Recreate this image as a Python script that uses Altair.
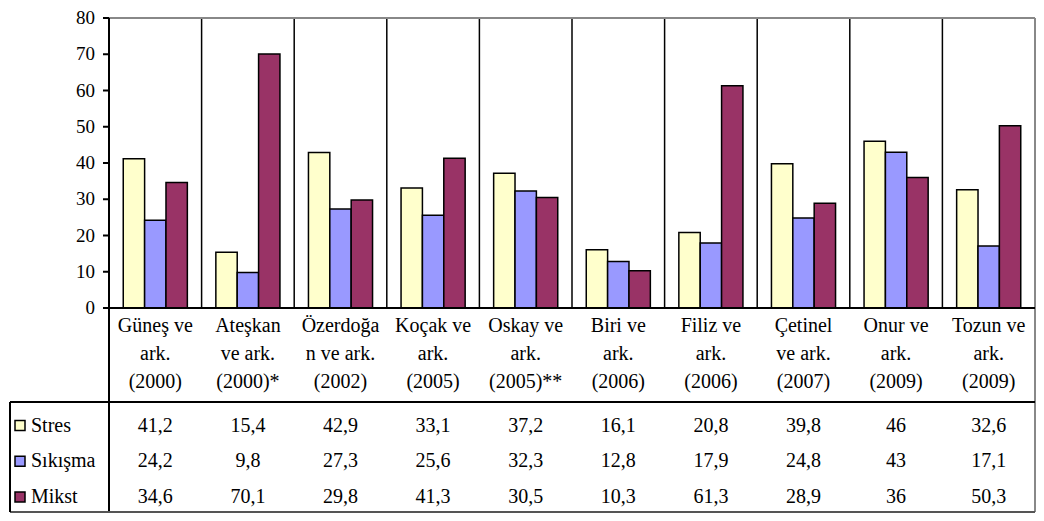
import altair as alt
import pandas as pd

# ---------------- data ----------------
label_line1 = ["Güneş ve", "Ateşkan", "Özerdoğa", "Koçak ve", "Oskay ve",
               "Biri ve", "Filiz ve", "Çetinel", "Onur ve", "Tozun ve"]
label_line2 = ["ark.", "ve ark.", "n ve ark.", "ark.", "ark.",
               "ark.", "ark.", "ve ark.", "ark.", "ark."]
label_line3 = ["(2000)", "(2000)*", "(2002)", "(2005)", "(2005)**",
               "(2006)", "(2006)", "(2007)", "(2009)", "(2009)"]
series = ["Stres", "Sıkışma", "Mikst"]
stres = [41.2, 15.4, 42.9, 33.1, 37.2, 16.1, 20.8, 39.8, 46, 32.6]
sikisma = [24.2, 9.8, 27.3, 25.6, 32.3, 12.8, 17.9, 24.8, 43, 17.1]
mikst = [34.6, 70.1, 29.8, 41.3, 30.5, 10.3, 61.3, 28.9, 36, 50.3]
y_ticks = [0, 10, 20, 30, 40, 50, 60, 70, 80]
colors = ["#FFFFCC", "#9999FF", "#993366"]

studies = [f"{a} {b} {c}" for a, b, c in zip(label_line1, label_line2, label_line3)]
values = {"Stres": stres, "Sıkışma": sikisma, "Mikst": mikst}

bars_df = pd.DataFrame([
    {"study": s, "series": ser, "value": values[ser][i]}
    for i, s in enumerate(studies) for ser in series
])
lines_df = pd.DataFrame([
    {"study": s, "line": ln, "text": t}
    for s, l1, l2, l3 in zip(studies, label_line1, label_line2, label_line3)
    for ln, t in (("l1", l1), ("l2", l2), ("l3", l3))
])
ticks_df = pd.DataFrame({"v": y_ticks})
series_df = pd.DataFrame({"series": series})
one = pd.DataFrame({"k": [0]})

# ---------------- layout ----------------
FONT = "Liberation Serif, Times New Roman, DejaVu Serif, serif"
X0, X1 = 101, 1027          # plot area left / right
YT, YA = 10, 300            # plot top / x axis
YTAB, YBOT = 394, 504       # table line / bottom
XL = 2                      # table left border

x_scale = alt.Scale(domain=studies, range=[X0, X1], paddingInner=0, paddingOuter=0)
y_scale = alt.Scale(domain=[0, 80], range=[YA, YT], nice=False, zero=True)
row_scale = alt.Scale(type="point", domain=series, range=[417.5, 489], padding=0)
line_scale = alt.Scale(type="point", domain=["l1", "l2", "l3"], range=[318, 373.5], padding=0)
color_scale = alt.Scale(domain=series, range=colors)

X = alt.X("study:N", scale=x_scale, axis=None)

bars = alt.Chart(bars_df).mark_bar(stroke="black", strokeWidth=1.5).encode(
    x=X,
    xOffset=alt.XOffset("series:N", scale=alt.Scale(domain=series, paddingInner=0, paddingOuter=0.667)),
    y=alt.Y("value:Q", scale=y_scale, axis=None),
    color=alt.Color("series:N", scale=color_scale, legend=None),
)

dividers = alt.Chart(pd.DataFrame({"study": studies[:-1]})).mark_rule(
    color="black", strokeWidth=1.5
).encode(
    x=alt.X("study:N", scale=x_scale, axis=None, bandPosition=1),
    y=alt.value(YT), y2=alt.value(YA),
)

right_border = alt.Chart(pd.DataFrame({"study": studies[-1:]})).mark_rule(
    color="#888888", strokeWidth=2
).encode(
    x=alt.X("study:N", scale=x_scale, axis=None, bandPosition=1),
    y=alt.value(YT), y2=alt.value(YBOT),
)

top_border = alt.Chart(one).mark_rule(color="#888888", strokeWidth=2).encode(
    x=alt.value(X0), x2=alt.value(X1), y=alt.value(YT))

y_axis_line = alt.Chart(one).mark_rule(color="black", strokeWidth=2).encode(
    x=alt.value(X0), y=alt.value(YT), y2=alt.value(YBOT))

x_axis_line = alt.Chart(pd.DataFrame({"v": [0]})).mark_rule(color="black", strokeWidth=2).encode(
    y=alt.Y("v:Q", scale=y_scale, axis=None), x=alt.value(X0 - 6), x2=alt.value(X1))

tick_marks = alt.Chart(ticks_df).mark_rule(color="black", strokeWidth=2).encode(
    y=alt.Y("v:Q", scale=y_scale, axis=None), x=alt.value(X0 - 6), x2=alt.value(X0))

tick_labels = alt.Chart(ticks_df).mark_text(
    align="right", baseline="middle", font=FONT, fontSize=19, color="black"
).encode(
    y=alt.Y("v:Q", scale=y_scale, axis=None), x=alt.value(X0 - 14), text="v:Q")

table_line = alt.Chart(one).mark_rule(color="black", strokeWidth=2).encode(
    x=alt.value(XL), x2=alt.value(X1), y=alt.value(YTAB))
table_bottom = alt.Chart(one).mark_rule(color="#555555", strokeWidth=2).encode(
    x=alt.value(XL), x2=alt.value(X1), y=alt.value(YBOT))
table_left = alt.Chart(one).mark_rule(color="black", strokeWidth=2).encode(
    x=alt.value(XL), y=alt.value(YTAB), y2=alt.value(YBOT))

cat_labels = alt.Chart(lines_df).mark_text(
    align="center", baseline="middle", font=FONT, fontSize=20, color="black"
).encode(
    x=X, y=alt.Y("line:N", scale=line_scale, axis=None), text="text:N")

cell_values = alt.Chart(bars_df).transform_calculate(
    label="replace(toString(datum.value), '.', ',')"
).mark_text(
    align="center", baseline="middle", font=FONT, fontSize=20, color="black"
).encode(
    x=X, y=alt.Y("series:N", scale=row_scale, axis=None), text="label:N")

legend_squares = alt.Chart(series_df).mark_square(
    size=100, stroke="black", strokeWidth=1.5, opacity=1
).encode(
    x=alt.value(12), y=alt.Y("series:N", scale=row_scale, axis=None),
    color=alt.Color("series:N", scale=color_scale, legend=None),
)

legend_text = alt.Chart(series_df).mark_text(
    align="left", baseline="middle", font=FONT, fontSize=20, color="black"
).encode(
    x=alt.value(23), y=alt.Y("series:N", scale=row_scale, axis=None), text="series:N")

chart = alt.layer(
    bars, dividers, top_border, right_border, y_axis_line, x_axis_line,
    tick_marks, tick_labels, table_line, table_bottom, table_left,
    cat_labels, cell_values, legend_squares, legend_text,
).resolve_scale(
    y="independent"
).properties(
    width=1028, height=505,
    autosize=alt.AutoSizeParams(type="none"),
    padding=0,
).configure_view(stroke=None)

chart.save("out.html", embed_options={"renderer": "svg", "actions": False})
